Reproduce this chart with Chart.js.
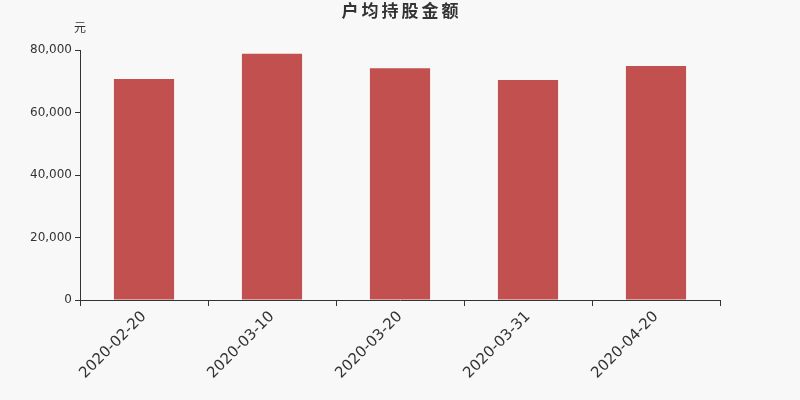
<!DOCTYPE html>
<html>
<head>
<meta charset="utf-8">
<script src="https://cdn.jsdelivr.net/npm/chart.js@4"></script>
<style>
  html, body { margin: 0; padding: 0; background: #f8f8f8; }
  #wrap { width: 800px; height: 400px; }
</style>
</head>
<body>
<div id="wrap"><canvas id="myChart" width="800" height="400"></canvas></div>
<script>
const titleText = '户均持股金额'
const unitText = '元'
const dates = ['2020-02-20', '2020-03-10', '2020-03-20', '2020-03-31', '2020-04-20']
const amounts = [70720, 78820, 74140, 70400, 74880]
const yMax = 80000
const yStep = 20000

const fontFamily = '"DejaVu Sans", "Noto Sans CJK SC", sans-serif'

// title and unit label drawn by hand so the plot area stays where it is
const headerPlugin = {
    id: 'header',
    afterDraw(chart) {
        let c = chart.ctx
        c.save()
        c.fillStyle = '#333'
        c.textAlign = 'center'
        c.textBaseline = 'middle'
        c.font = 'bold 17px ' + fontFamily
        // title is spaced out a bit, one glyph at a time
        let step = 20
        let startX = 400 - step * (titleText.length - 1) / 2
        for (let i = 0; i < titleText.length; i++) {
            c.fillText(titleText[i], startX + i * step, 13)
        }
        c.font = '12px ' + fontFamily
        c.fillText(unitText, 80, 29)
        c.restore()
    }
}

const ctx = document.getElementById('myChart').getContext('2d')
let myChart = new Chart(ctx, {
    type: 'bar',
    data: {
        labels: dates,
        datasets: [{
            data: amounts,
            backgroundColor: '#c1504e',
            barPercentage: 0.47,
            categoryPercentage: 1
        }]
    },
    options: {
        responsive: false,
        animation: false,
        layout: { padding: { top: 50, right: 80, left: 0, bottom: 0 } },
        plugins: {
            legend: { display: false },
            title: { display: false },
            tooltip: { enabled: false }
        },
        scales: {
            x: {
                offset: true,
                grid: { drawOnChartArea: false, drawTicks: true, tickLength: 6, color: '#333', offset: true },
                border: { display: true, color: '#333' },
                ticks: {
                    color: '#333',
                    font: { size: 15, family: fontFamily },
                    minRotation: 45,
                    maxRotation: 45,
                    padding: 2
                },
                afterFit(scale) { scale.height = 100 }
            },
            y: {
                min: 0,
                max: yMax,
                grid: { drawOnChartArea: false, drawTicks: true, tickLength: 5, color: '#333' },
                border: { display: true, color: '#333' },
                ticks: {
                    stepSize: yStep,
                    color: '#333',
                    font: { size: 12, family: fontFamily },
                    padding: 3,
                    callback: (v) => v.toLocaleString('en-US')
                },
                afterFit(scale) { scale.width = 80 }
            }
        }
    },
    plugins: [headerPlugin]
})
</script>
</body>
</html>
